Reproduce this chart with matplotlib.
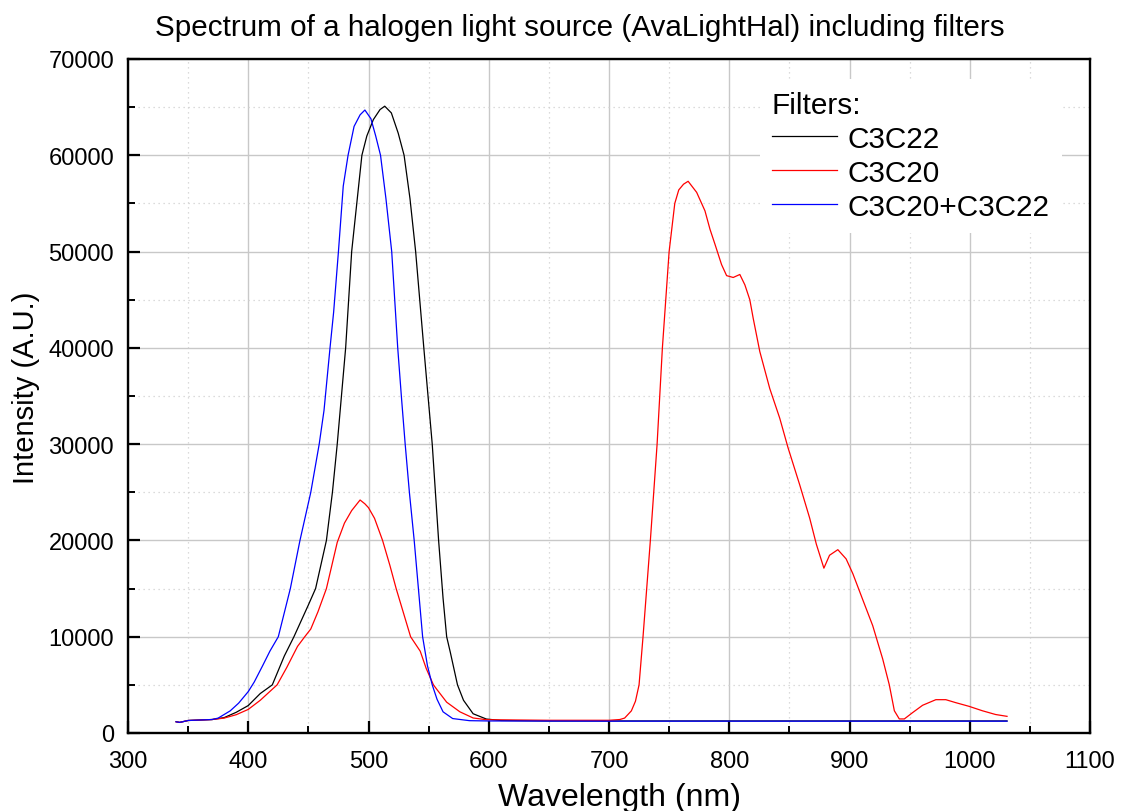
import matplotlib
matplotlib.use("Agg")
import matplotlib.pyplot as plt
from matplotlib.ticker import MultipleLocator

plt.rcParams['font.family'] = ['Liberation Sans', 'DejaVu Sans']

# ---------------------------
# DATA
# ---------------------------
wl_c3c22 = [340, 343, 350, 360, 370, 380, 390, 400, 410, 420, 430, 438, 450, 456, 465,
            470, 474, 481, 486, 494.5, 498.6, 504, 509.6, 513.5, 519, 524.7, 529.6,
            534.5, 539.2, 546, 553, 558.3, 562, 565, 568, 574, 579, 587,
            598, 610, 650, 700, 800, 900, 1000, 1031]
int_c3c22 = [1170, 1100, 1300, 1350, 1400, 1600, 2150, 2850, 4100, 5000, 8000, 10000,
             13300, 15000, 20000, 25000, 30000, 40000, 50000, 60000, 62000, 63700, 64750,
             65100, 64400, 62300, 60000, 55500, 50000, 40000, 30000, 20000, 14000,
             10000, 8400, 5000, 3400, 2000, 1450, 1300, 1250, 1250,
             1250, 1250, 1250, 1250]

wl_c3c20 = [340, 343, 350, 360, 370, 380, 390, 400, 410, 424, 432, 441, 447, 452, 458, 465,
            474, 480, 486, 493, 497, 500, 505, 511.7, 517.8, 523, 529, 535, 543, 548,
            554, 557, 565, 576, 587, 598, 650, 700, 709, 713, 718.6, 722, 725, 728.3,
            734.4, 740, 744.4, 750, 754.7, 758, 762, 765.8, 772.9, 779.8, 784, 788.1,
            793.6, 797.8, 803.3, 808.8, 813, 817.1, 819.9, 825.4, 833.7, 842, 848.9,
            858.6, 866.9, 872.4, 878.7, 883.4, 890.3, 897.2, 902.8, 911, 919.3, 927.6,
            933.1, 937.3, 941.4, 945.6, 952.5, 960.8, 971.8, 980.1, 988.4, 999.4,
            1010.5, 1021.5, 1031]
int_c3c20 = [1170, 1100, 1300, 1350, 1400, 1550, 1900, 2450, 3400, 5000, 6800, 9000,
             10000, 10800, 12600, 15000, 19800, 21800, 23100, 24200, 23800, 23400, 22300,
             20000, 17400, 15000, 12500, 10000, 8500, 6700, 5000, 4500, 3200, 2200,
             1560, 1380, 1320, 1320, 1400, 1550, 2300, 3300, 5000, 10000, 20000, 30000,
             40000, 50000, 55000, 56400, 57000, 57300, 56150, 54230, 52310, 50770,
             48650, 47500, 47310, 47620, 46540, 45000, 43080, 39620, 35770, 32690,
             29620, 25770, 22310, 19620, 17120, 18460, 19040, 18080, 16540, 13850,
             11150, 7690, 5000, 2310, 1460, 1460, 2120, 2880, 3460, 3460, 3150, 2770,
             2310, 1920, 1730]

wl_both = [340, 343, 350, 360, 370, 375, 385, 392, 400, 405, 412, 418, 425, 430, 435,
           443, 452, 459, 463, 468, 471, 475, 479, 483, 488, 493, 497, 502, 506, 510,
           514.5, 519.3, 524.3, 527.5, 530.5, 534, 538, 541.5, 545, 549, 553, 557, 562,
           570, 584, 600, 700, 800, 900, 1000, 1031]
int_both = [1170, 1100, 1300, 1350, 1400, 1550, 2300, 3100, 4300, 5300, 7000, 8500,
            10000, 12500, 15000, 20000, 25000, 30000, 33500, 40000, 43700, 50000, 56800,
            60000, 63000, 64200, 64700, 63800, 62000, 60000, 55500, 50000, 40000, 34700,
            30000, 25000, 20000, 15000, 10000, 7000, 5000, 3500, 2200, 1500, 1280, 1250,
            1230, 1230, 1230, 1230, 1230]

labels = ["C3C22", "C3C20", "C3C20+C3C22"]
colors = ["black", "red", "blue"]

# ---------------------------
# PLOT
# ---------------------------
fig = plt.figure(figsize=(11.21, 8.12), dpi=100)
ax = fig.add_axes([128 / 1121, 78 / 812, 962 / 1121, 674 / 812])

series = [(wl_c3c22, int_c3c22), (wl_c3c20, int_c3c20), (wl_both, int_both)]
for (x, y), lab, col in zip(series, labels, colors):
    ax.plot(x, y, color=col, lw=0.9, label=lab)

ax.set_xlim(300, 1100)
ax.set_ylim(0, 70000)
ax.xaxis.set_major_locator(MultipleLocator(100))
ax.xaxis.set_minor_locator(MultipleLocator(50))
ax.yaxis.set_major_locator(MultipleLocator(10000))
ax.yaxis.set_minor_locator(MultipleLocator(5000))

ax.grid(which="major", color="#c8c8c8", lw=1.0, ls="-")
ax.grid(which="minor", color="#d0d0d0", lw=0.9, ls=(0, (1, 3)))
ax.set_axisbelow(True)

for s in ax.spines.values():
    s.set_linewidth(1.7)
ax.tick_params(which="major", direction="in", length=8.6, width=1.6, labelsize=17,
               top=False, right=False)
ax.tick_params(axis="x", which="major", pad=12)
ax.tick_params(axis="y", which="major", pad=10)
ax.tick_params(which="minor", direction="in", length=5, width=1.4, top=False, right=False)

fig.text(580 / 1121, 1 - 28 / 812,
         "Spectrum of a halogen light source (AvaLightHal) including filters",
         fontsize=21.3, ha="center", va="center")
ax.set_xlabel("Wavelength (nm)", fontsize=23)
ax.xaxis.set_label_coords((620 - 128) / 962, (734 - 783) / 674)
ax.set_ylabel("Intensity (A.U.)", fontsize=21)
ax.yaxis.set_label_coords((40 - 128) / 962, (734 - 388) / 674)

leg = ax.legend(title="Filters:", loc="upper left", bbox_to_anchor=(0.6415, 0.9924),
                fontsize=21.4, title_fontsize=21.4, frameon=True, fancybox=False,
                handlelength=2.2, handletextpad=0.35, labelspacing=0.2,
                borderpad=0.4, alignment="left")
leg.get_frame().set_facecolor("white")
leg.get_frame().set_edgecolor("none")
leg.get_frame().set_alpha(1.0)

plt.savefig("out.png", dpi=100)
